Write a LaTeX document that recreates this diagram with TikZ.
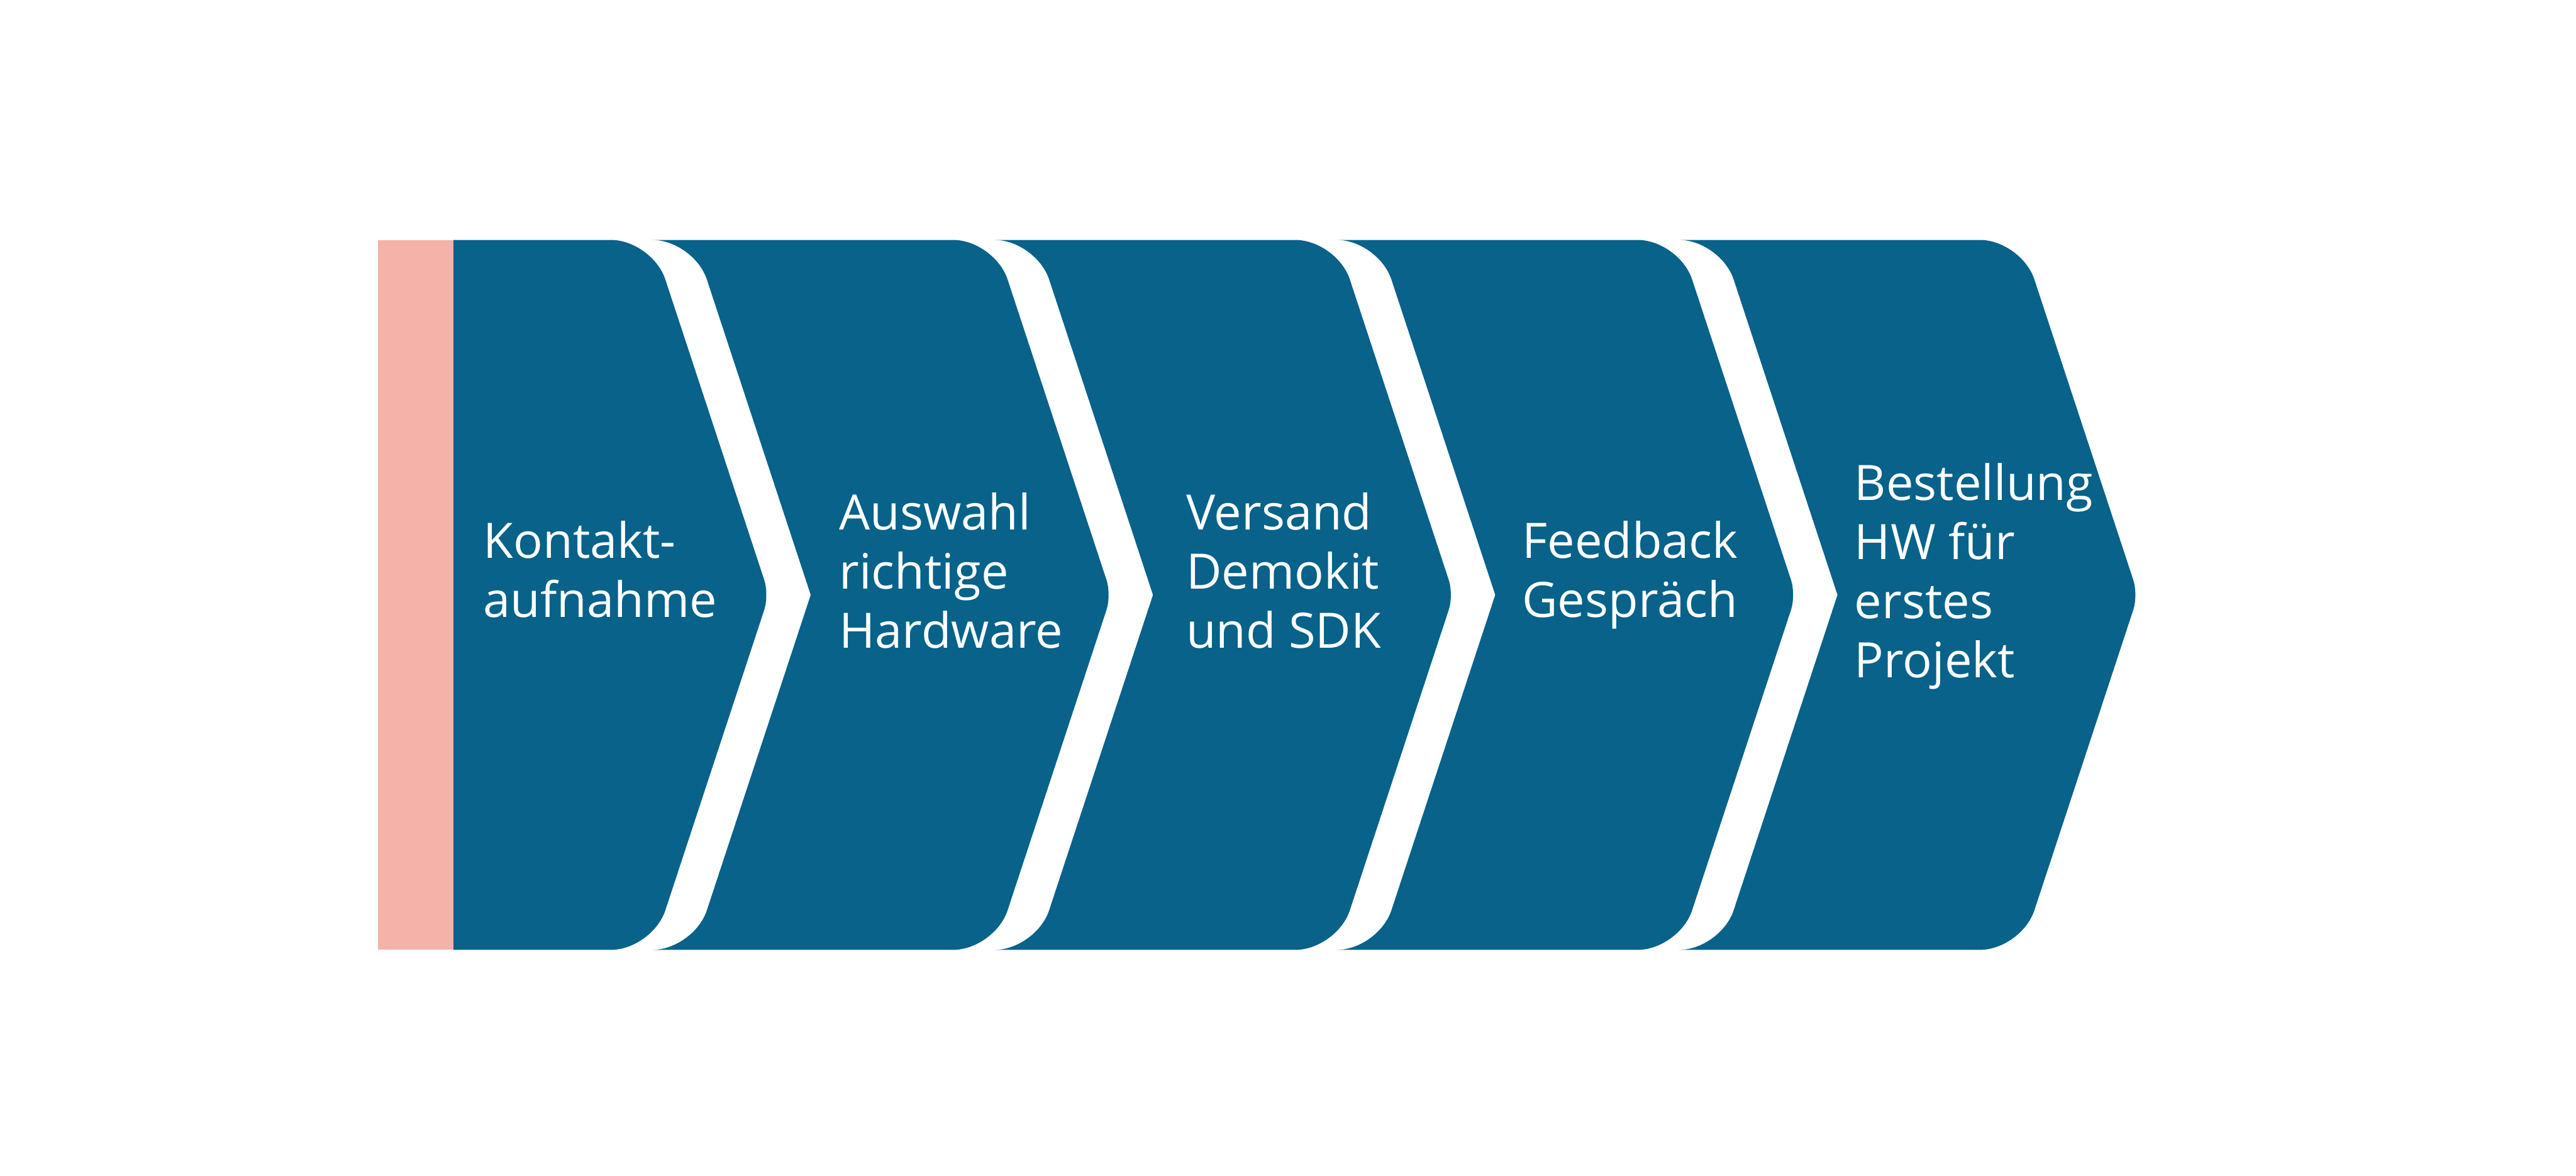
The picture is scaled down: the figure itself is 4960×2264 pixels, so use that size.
\documentclass[tikz,border=0pt]{standalone}
\usepackage{fontspec}
\setmainfont{Open Sans}
\definecolor{chevblue}{RGB}{8,98,138}
\definecolor{barpink}{RGB}{244,178,168}
\begin{document}
\begin{tikzpicture}[x=0.2pt,y=-0.2pt,
  chev/.style={fill=chevblue},
  lbl/.style={anchor=base west, inner sep=0pt, text=white, align=left,
    font=\fontsize{18.8}{22.8}\selectfont}]
\useasboundingbox (0,0) rectangle (4960,2264);
% first chevron
\fill[chev] (873,462) -- (1176,462) .. controls (1220,462) and (1267,496) .. (1281,538)
  -- (1471.6,1117) .. controls (1476.8,1133) and (1476.8,1158) .. (1471.6,1174)
  -- (1281,1753) .. controls (1267,1795) and (1220,1829) .. (1176,1829)
  -- (873,1829) -- cycle;
% following chevrons
\foreach \T/\L in {2140/1561, 2799/2220, 3458/2879, 4117/3538} {
  \fill[chev] ({\L-305},462) .. controls ({\L-261},462) and ({\L-214},496) .. ({\L-200},538)
    -- (\L,1145.5) -- ({\L-200},1753)
    .. controls ({\L-214},1795) and ({\L-261},1829) .. ({\L-305},1829)
    -- ({\T-305},1829) .. controls ({\T-261},1829) and ({\T-214},1795) .. ({\T-200},1753)
    -- ({\T-9.4},1174) .. controls ({\T-4.2},1158) and ({\T-4.2},1133) .. ({\T-9.4},1117)
    -- ({\T-200},538) .. controls ({\T-214},496) and ({\T-261},462) .. ({\T-305},462)
    -- cycle;
}
% pink bar
\fill[barpink] (728,462) rectangle (873,1829);
% labels (anchored at the baseline of the last line)
\node[lbl] (t1) at (930,1189) {Kontakt-\\aufnahme};
\node[lbl] (t2) at (1615,1248) {Auswahl\\richtige\\Hardware};
\node[lbl] (t3) at (2283,1248) {Versand\\Demokit\\und SDK};
\node[lbl] (t4) at (2930,1189) {Feedback\\Gespräch};
\node[lbl] (t5) at (3570,1305) {Bestellung\\HW für\\erstes\\Projekt};
\end{tikzpicture}
\end{document}
